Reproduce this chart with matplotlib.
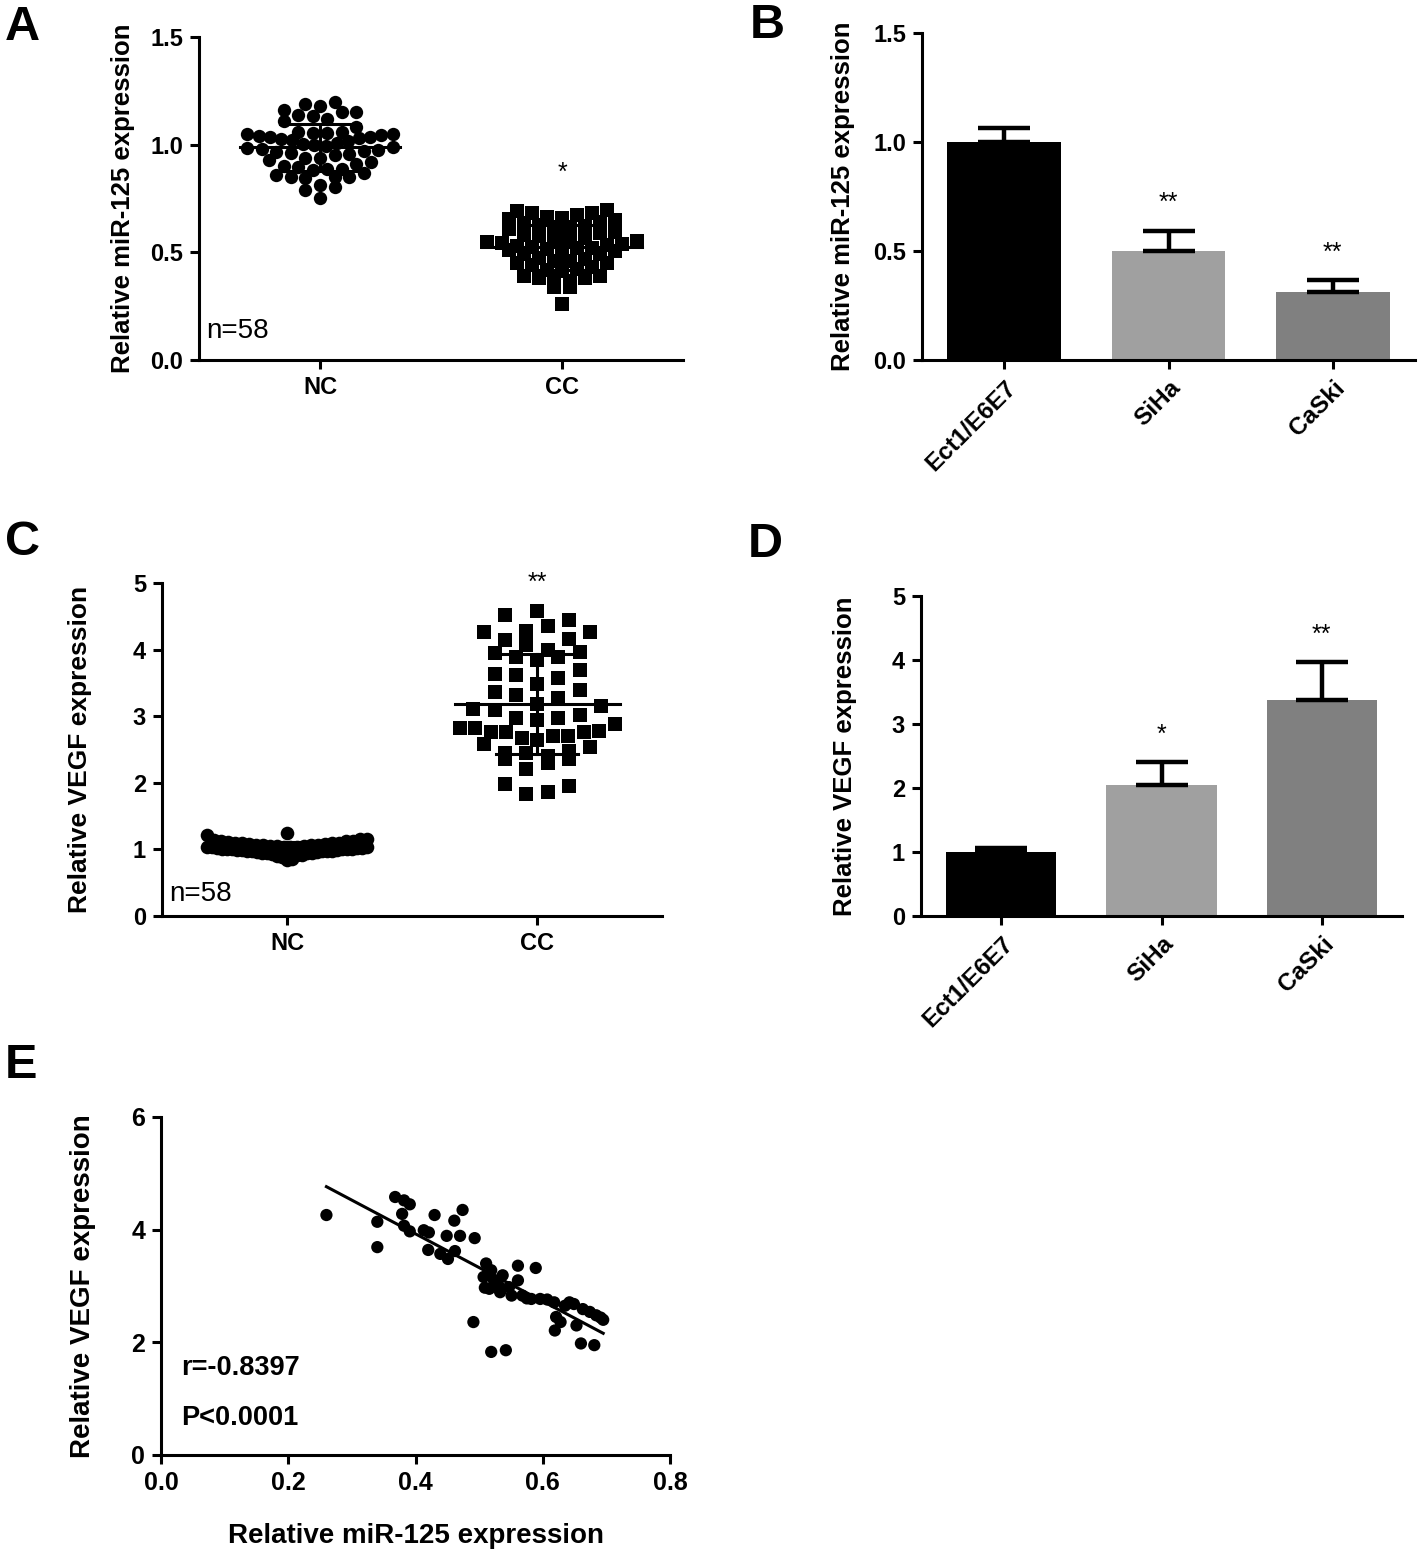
import numpy as np
import matplotlib
matplotlib.use("Agg")
import matplotlib.pyplot as plt

# ---------------- data ----------------
groups = ["NC", "CC"]
cell_lines = ["Ect1/E6E7", "SiHa", "CaSki"]

mir125_nc = [1.20, 1.19, 1.18, 1.16, 1.15, 1.15, 1.14, 1.135, 1.12, 1.11, 1.08,
             1.06, 1.06, 1.055, 1.053, 1.05, 1.05, 1.045, 1.04, 1.037, 1.037,
             1.03, 1.025, 1.02, 1.015, 1.01, 1.005, 1.00, 0.995, 0.99, 0.985,
             0.98, 0.975, 0.97, 0.965, 0.96, 0.955, 0.95, 0.94, 0.937, 0.93,
             0.92, 0.91, 0.90, 0.894, 0.886, 0.886, 0.882, 0.867, 0.86, 0.852,
             0.852, 0.852, 0.844, 0.813, 0.802, 0.79, 0.751]

vegf_nc = [1.24, 1.21, 1.16, 1.15, 1.14, 1.13, 1.12, 1.12, 1.11, 1.10, 1.10,
           1.09, 1.09, 1.08, 1.08, 1.07, 1.07, 1.06, 1.06, 1.05, 1.05, 1.05,
           1.04, 1.04, 1.04, 1.03, 1.03, 1.03, 1.02, 1.02, 1.02, 1.01, 1.01,
           1.01, 1.00, 1.00, 1.00, 0.99, 0.99, 0.99, 0.98, 0.98, 0.98, 0.97,
           0.97, 0.96, 0.96, 0.95, 0.95, 0.94, 0.94, 0.93, 0.92, 0.91, 0.90,
           0.88, 0.86, 0.84]

# paired cancer-tissue values (used in A, C and E)
mir125_cc = [0.26, 0.34, 0.34, 0.368, 0.382, 0.391, 0.379, 0.382, 0.391, 0.413,
             0.421, 0.43, 0.42, 0.439, 0.449, 0.451, 0.461, 0.462, 0.47, 0.474,
             0.493, 0.491, 0.511, 0.507, 0.509, 0.519, 0.523, 0.53, 0.537, 0.533,
             0.547, 0.551, 0.561, 0.561, 0.519, 0.542, 0.582, 0.589, 0.596, 0.607,
             0.618, 0.621, 0.619, 0.628, 0.635, 0.649, 0.653, 0.66, 0.663, 0.674,
             0.681, 0.684, 0.695, 0.642, 0.568, 0.516, 0.691, 0.575]
vegf_cc = [4.26, 4.14, 3.69, 4.58, 4.52, 4.45, 4.28, 4.07, 3.97, 3.99,
           3.95, 4.26, 3.64, 3.57, 3.89, 3.48, 4.16, 3.62, 3.89, 4.35,
           3.85, 2.36, 3.40, 3.16, 2.97, 3.28, 3.11, 3.02, 3.19, 2.89,
           2.98, 2.83, 3.36, 3.10, 1.83, 1.86, 2.77, 3.32, 2.77, 2.76,
           2.71, 2.45, 2.21, 2.36, 2.65, 2.68, 2.30, 1.98, 2.59, 2.54,
           1.95, 2.48, 2.40, 2.71, 2.83, 2.95, 2.44, 2.78]

mir125_cells = [1.00, 0.50, 0.31]
mir125_cells_err = [0.065, 0.093, 0.056]
vegf_cells = [1.00, 2.05, 3.37]
vegf_cells_err = [0.065, 0.35, 0.60]
bar_colors = ["#000000", "#a0a0a0", "#808080"]

sig_A = "*"
sig_B = ["", "**", "**"]
sig_C = "**"
sig_D = ["", "*", "**"]
r_text = "r=-0.8397"
p_text = "P<0.0001"
n_text = "n=58"

# ---------------- figure ----------------
W, H = 1418, 1556
fig = plt.figure(figsize=(W / 100, H / 100), dpi=100)
FONT = "Liberation Sans"
plt.rcParams["font.family"] = [FONT, "DejaVu Sans"]
LW = 2.2


def ax_px(l, r, t, b):
    return fig.add_axes([l / W, 1 - b / H, (r - l) / W, (b - t) / H])


def style(ax, tick_fs=17):
    for s in ["top", "right"]:
        ax.spines[s].set_visible(False)
    for s in ["left", "bottom"]:
        ax.spines[s].set_linewidth(LW)
    ax.tick_params(direction="out", length=6.5, width=LW, pad=5,
                   labelsize=tick_fs)
    for lab in ax.get_xticklabels() + ax.get_yticklabels():
        lab.set_fontweight("bold")


def swarm(vals, row_h, step, half):
    vals = np.asarray(vals, float)
    offs = np.zeros(len(vals))
    bins = np.floor((vals - vals.min()) / row_h).astype(int)
    for b in np.unique(bins):
        idx = np.where(bins == b)[0]
        idx = idx[np.argsort(vals[idx])]
        n = len(idx)
        s = step if n <= 1 else min(step, 2 * half / (n - 1))
        pos = (np.arange(n) - (n - 1) / 2) * s
        order = np.argsort(np.abs(pos) + 1e-6 * np.arange(n) * (-1) ** np.arange(n), kind="stable")
        offs[idx] = pos[order]
    return offs


def dot_panel(ax, data, markers, msizes, row_hs, steps, halves, ms_lines=0.33):
    for i, (vals, mk, ms, rh, st, hf) in enumerate(zip(data, markers, msizes, row_hs, steps, halves)):
        off = swarm(vals, rh, st, hf)
        ax.plot(i + off, vals, linestyle="none", marker=mk, markersize=ms,
                color="black", markeredgewidth=0, zorder=2)
        m, sd = np.mean(vals), np.std(vals, ddof=1)
        ax.plot([i - ms_lines, i + ms_lines], [m, m], color="black", lw=2.2, zorder=3)
        ax.plot([i, i], [m - sd, m + sd], color="black", lw=2.2, zorder=3)
        for y in (m - sd, m + sd):
            ax.plot([i - ms_lines / 2, i + ms_lines / 2], [y, y], color="black", lw=2.2, zorder=3)


def bar_panel(ax, vals, errs, ymax, sigs):
    x = np.arange(len(vals))
    ax.bar(x, vals, width=0.69, color=bar_colors, edgecolor="none", zorder=2)
    ax.errorbar(x, vals, yerr=[np.zeros(len(vals)), errs], fmt="none",
                ecolor="black", elinewidth=3.2, capsize=19, capthick=3.2, zorder=3)
    for xi, v, e, s in zip(x, vals, errs, sigs):
        if s:
            ax.text(xi, v + e + 0.085 * ymax, s, ha="center", va="center",
                    fontsize=18)


# ---- Panel A ----
axA = ax_px(199, 683, 37, 360)
dot_panel(axA, [mir125_nc, mir125_cc], ["o", "s"], [9.6, 9.6], [0.06, 0.05],
          [0.06, 0.062], [0.30, 0.31])
axA.set_xlim(-0.5, 1.5)
axA.set_ylim(0, 1.5)
axA.set_yticks([0, 0.5, 1.0, 1.5])
axA.set_yticklabels(["0.0", "0.5", "1.0", "1.5"])
axA.set_xticks([0, 1])
axA.set_xticklabels(groups)
style(axA)
axA.set_ylabel("Relative miR-125 expression", fontsize=18.5, fontweight="bold", labelpad=11)
axA.text(-0.47, 0.135, n_text, fontsize=20, ha="left", va="center")
axA.text(1, 0.87, sig_A, fontsize=18, ha="center", va="center")

# ---- Panel B ----
axB = ax_px(922, 1415, 33, 360)
bar_panel(axB, mir125_cells, mir125_cells_err, 1.5, sig_B)
axB.set_xlim(-0.5, 2.5)
axB.set_ylim(0, 1.5)
axB.set_yticks([0, 0.5, 1.0, 1.5])
axB.set_yticklabels(["0.0", "0.5", "1.0", "1.5"])
axB.set_xticks([0, 1, 2])
axB.set_xticklabels(cell_lines, rotation=45, ha="right", va="top",
                    rotation_mode="anchor")
style(axB)
for lab in axB.get_xticklabels():
    lab.set_fontsize(17.5)
axB.set_ylabel("Relative miR-125 expression", fontsize=18.5, fontweight="bold", labelpad=13)

# ---- Panel C ----
axC = ax_px(162, 662, 583, 916)
dot_panel(axC, [vegf_nc, vegf_cc], ["o", "s"], [9.8, 10.5], [0.2, 0.27],
          [0.055, 0.085], [0.32, 0.31])
axC.set_xlim(-0.5, 1.5)
axC.set_ylim(0, 5)
axC.set_yticks([0, 1, 2, 3, 4, 5])
axC.set_xticks([0, 1])
axC.set_xticklabels(groups)
style(axC)
axC.set_ylabel("Relative VEGF expression", fontsize=19, fontweight="bold", labelpad=29)
axC.text(-0.47, 0.33, n_text, fontsize=20, ha="left", va="center")
axC.text(1, 5.0, sig_C, fontsize=18, ha="center", va="center", clip_on=False)

# ---- Panel D ----
axD = ax_px(921, 1402, 596, 916)
bar_panel(axD, vegf_cells, vegf_cells_err, 5, sig_D)
axD.set_xlim(-0.5, 2.5)
axD.set_ylim(0, 5)
axD.set_yticks([0, 1, 2, 3, 4, 5])
axD.set_xticks([0, 1, 2])
axD.set_xticklabels(cell_lines, rotation=45, ha="right", va="top",
                    rotation_mode="anchor")
style(axD)
for lab in axD.get_xticklabels():
    lab.set_fontsize(17.5)
axD.set_ylabel("Relative VEGF expression", fontsize=18.5, fontweight="bold", labelpad=25)

# ---- Panel E ----
axE = ax_px(161, 670, 1117, 1455)
xe = np.asarray(mir125_cc)
ye = np.asarray(vegf_cc)
axE.scatter(xe, ye, s=78, color="black", edgecolors="none", zorder=2)
k, b0 = np.polyfit(xe, ye, 1)
xx = np.array([xe.min(), xe.max()])
axE.plot(xx, k * xx + b0, color="black", lw=2.2, zorder=3)
axE.set_xlim(0, 0.8)
axE.set_ylim(0, 6)
axE.set_xticks([0, 0.2, 0.4, 0.6, 0.8])
axE.set_xticklabels(["0.0", "0.2", "0.4", "0.6", "0.8"])
axE.set_yticks([0, 2, 4, 6])
style(axE, 18)
axE.set_xlabel("Relative miR-125 expression", fontsize=20, fontweight="bold", labelpad=20)
axE.set_ylabel("Relative VEGF expression", fontsize=20, fontweight="bold", labelpad=25)
axE.text(0.031, 1.54, r_text, fontsize=19.5, fontweight="bold", ha="left", va="center")
axE.text(0.031, 0.66, p_text, fontsize=19.5, fontweight="bold", ha="left", va="center")

# panel letters
for letter, (x, y) in {"A": (5, 5), "B": (750, 3), "C": (5, 520), "D": (748, 522),
                       "E": (5, 1043)}.items():
    fig.text(x / W, 1 - y / H, letter, fontsize=35, fontweight="bold",
             ha="left", va="top")

fig.savefig("out.png", dpi=100)
